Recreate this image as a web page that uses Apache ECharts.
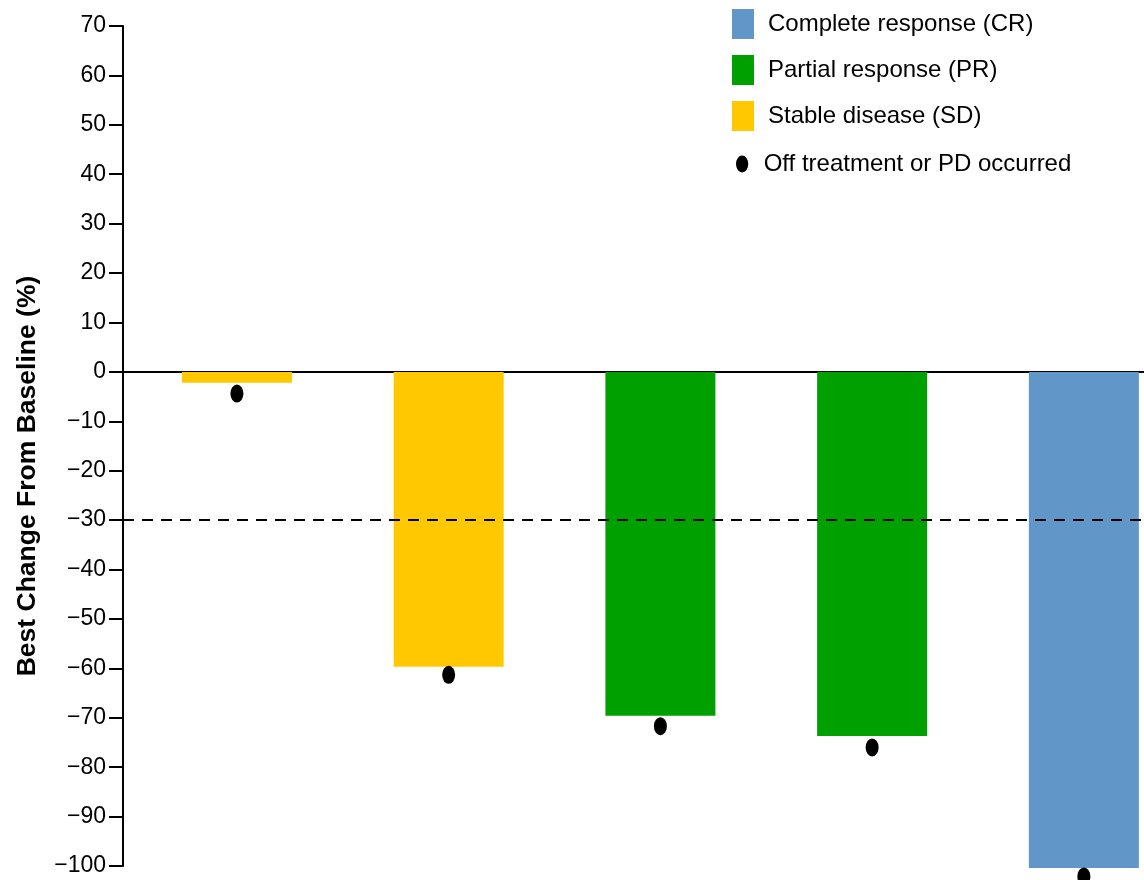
<!DOCTYPE html>
<html>
<head>
<meta charset="utf-8">
<script src="https://cdn.jsdelivr.net/npm/echarts@6/dist/echarts.min.js"></script>
<style>
  html, body { margin: 0; padding: 0; background: #fff; }
  #main { width: 1144px; height: 880px; }
</style>
</head>
<body>
<div id="main"></div>
<script>
// one bar per patient
var patients = ['Patient 1', 'Patient 2', 'Patient 3', 'Patient 4', 'Patient 5'];
var responses = ['SD', 'SD', 'PR', 'PR', 'CR'];
var bestChange = [-2.2, -59.7, -69.6, -73.7, -100.4];
var offTreatment = [-4.4, -61.3, -71.7, -76.0, -102.1];

var responseNames = {
	CR : 'Complete response (CR)',
	PR : 'Partial response (PR)',
	SD : 'Stable disease (SD)'
};
var responseColors = {
	CR : '#6096C8',
	PR : '#00A000',
	SD : '#FFC800'
};
var dotName = 'Off treatment or PD occurred';
// tall ellipse for the legend marker
var dotIcon = 'path://M0,9A6.5,9,0,1,0,13,9A6.5,9,0,1,0,0,9Z';

var fontFamily = 'Arial, "Liberation Sans", Helvetica, sans-serif';

function minusLabel(v) {
	return v < 0 ? '\u2212' + Math.abs(v) : '' + v;
}

// bars of one response type, placed at the patient index
function barSeries(code) {
	var data = [];
	for (var i = 0; i < patients.length; i++) {
		if (responses[i] == code)
			data.push([i, bestChange[i]]);
	}
	return {
		name : responseNames[code],
		type : 'bar',
		data : data,
		barWidth : 110,
		barGap : '-100%',
		clip : false,
		itemStyle : {
			color : responseColors[code]
		}
	};
}

var dotData = [];
for (var i = 0; i < patients.length; i++) {
	dotData.push([i, offTreatment[i]]);
}

var myChart = echarts.init(document.getElementById('main'));

myChart.setOption({
	animation : false,
	grid : {
		left : 123,
		right : 0,
		top : 26,
		bottom : 14
	},
	legend : [ {
		orient : 'vertical',
		left : 732,
		top : 9,
		padding : 0,
		itemWidth : 22,
		itemHeight : 30,
		itemGap : 16,
		icon : 'rect',
		data : [ responseNames.CR, responseNames.PR, responseNames.SD ],
		textStyle : {
			fontFamily : fontFamily,
			fontSize : 24,
			color : '#000',
			padding : [ 0, 0, 0, 9 ]
		}
	}, {
		orient : 'vertical',
		left : 736,
		top : 152,
		padding : 0,
		itemWidth : 13,
		itemHeight : 17,
		data : [ {
			name : dotName,
			icon : dotIcon
		} ],
		itemStyle : {
			color : '#000',
			opacity : 1
		},
		textStyle : {
			fontFamily : fontFamily,
			fontSize : 24,
			color : '#000',
			padding : [ 0, 0, 0, 10 ]
		}
	} ],
	xAxis : {
		type : 'value',
		min : -0.538,
		max : 4.284,
		axisLine : {
			show : true,
			onZero : true,
			lineStyle : {
				color : '#000',
				width : 2
			}
		},
		axisTick : {
			show : false
		},
		axisLabel : {
			show : false
		},
		splitLine : {
			show : false
		}
	},
	yAxis : {
		type : 'value',
		min : -100,
		max : 70,
		interval : 10,
		name : 'Best Change From Baseline (%)',
		nameLocation : 'middle',
		nameRotate : 90,
		nameGap : 82,
		nameTextStyle : {
			fontFamily : fontFamily,
			fontSize : 26.5,
			fontWeight : 'bold',
			color : '#000',
			padding : [ 0, 60, 0, 0 ]
		},
		axisLine : {
			show : true,
			onZero : false,
			lineStyle : {
				color : '#000',
				width : 2
			}
		},
		axisTick : {
			show : true,
			length : 14,
			lineStyle : {
				color : '#000',
				width : 2
			}
		},
		axisLabel : {
			margin : 17,
			fontFamily : fontFamily,
			fontSize : 23,
			color : '#000',
			formatter : minusLabel
		},
		splitLine : {
			show : false
		}
	},
	series : [ barSeries('CR'), barSeries('PR'), barSeries('SD'), {
		name : dotName,
		type : 'scatter',
		data : dotData,
		symbol : 'circle',
		symbolSize : [ 13, 18 ],
		clip : false,
		z : 5,
		itemStyle : {
			color : '#000',
			opacity : 1
		},
		markLine : {
			silent : true,
			symbol : 'none',
			label : {
				show : false
			},
			lineStyle : {
				color : '#000',
				width : 2,
				type : [ 11, 8 ]
			},
			data : [ {
				yAxis : -30
			} ]
		}
	} ]
});
</script>
</body>
</html>
